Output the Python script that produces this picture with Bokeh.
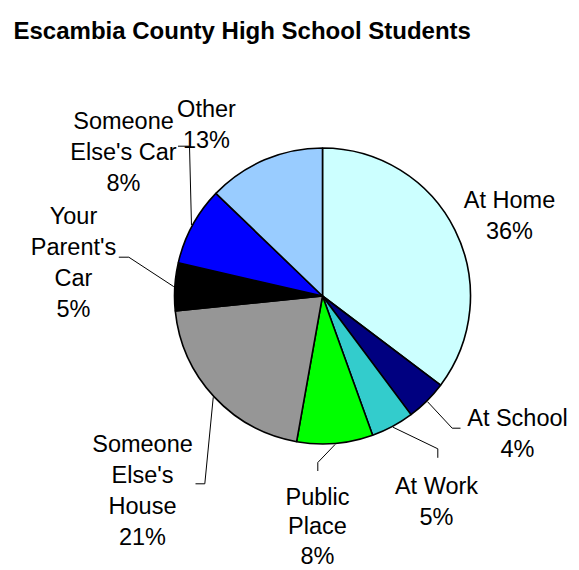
import numpy as np
from bokeh.plotting import figure
from bokeh.models import Range1d, ColumnDataSource
from bokeh.core.properties import value
from bokeh.embed import file_html
from bokeh.resources import INLINE

# ---------------- data ----------------
chart_title = "Escambia County High School Students"
categories = ["At Home", "At School", "At Work", "Public Place",
              "Someone Else's House", "Your Parent's Car",
              "Someone Else's Car", "Other"]
shares = [35.3, 4.5, 4.7, 8.3, 20.6, 5.2, 8.6, 12.8]
pct_labels = ["36%", "4%", "5%", "8%", "21%", "5%", "8%", "13%"]
label_lines = [["At Home"], ["At School"], ["At Work"], ["Public", "Place"],
               ["Someone", "Else's", "House"], ["Your", "Parent's", "Car"],
               ["Someone", "Else's Car"], ["Other"]]

# ---------------- styles / layout ----------------
colors = ["#CCFFFF", "#000080", "#33CCCC", "#00FF00",
          "#969696", "#000000", "#0000FF", "#99CCFF"]
FONT = "Liberation Sans"
W, H = 579, 570
CX, CY, R = 322, 295.5, 148      # page pixel coordinates
# label anchor: centre x, first baseline, line spacing (page px)
label_pos = [(509, 199.5, 31), (517, 417.5, 31), (436, 485, 31),
             (317, 496, 29.5), (142, 443, 31), (73, 215, 31),
             (123, 120.5, 31), (206, 108.5, 31)]
# leader lines: start point near label, elbow (None = no leader)
leaders = [None,
           ((460, 427.7), (451.7, 427.7)),
           ((437.3, 457.3), (437.3, 448.3)),
           ((317.3, 470.5), (317.3, 462.0)),
           ((195, 483.3), (204.3, 483.3)),
           ((118.3, 256.7), (128.3, 256.7)),
           ((177.5, 145.7), (189.0, 145.7)),
           None]

p = figure(width=W, height=H, x_range=Range1d(0, W),
           y_range=Range1d(-H, 0), output_backend="svg",
           toolbar_location=None, min_border=0,
           x_axis_location=None, y_axis_location=None)
p.grid.visible = False
p.outline_line_color = None
p.background_fill_color = "white"
p.border_fill_color = "white"

total = float(sum(shares))
frac = np.array(shares) / total
cum_after = np.cumsum(frac)
cum_before = cum_after - frac
start = np.pi / 2 - 2 * np.pi * cum_before
end = np.pi / 2 - 2 * np.pi * cum_after

src = ColumnDataSource(dict(cat=categories, start=start, end=end, color=colors))
p.wedge(x=CX, y=-CY, radius=R, start_angle="start", end_angle="end",
        direction="clock", fill_color="color", line_color="black",
        line_width=1.6, source=src)

# leader lines, ending on the pie edge at each slice's mid angle
mid = 2 * np.pi * (cum_before + frac / 2)   # clockwise from top
for i, ld in enumerate(leaders):
    if ld is None:
        continue
    (sx, sy), (ex, ey) = ld
    px = CX + (R + 1) * np.sin(mid[i])
    py = CY - (R + 1) * np.cos(mid[i])
    p.line([sx, ex, px], [-sy, -ey, -py], line_color="black", line_width=1)

# labels
tx, ty, tt = [], [], []
for i, lines in enumerate(label_lines):
    x0, y0, lh = label_pos[i]
    rows = lines + [pct_labels[i]]
    for k, t in enumerate(rows):
        tx.append(x0)
        ty.append(-(y0 + k * lh))
        tt.append(t)
p.text(x=tx, y=ty, text=tt, text_align="center", text_baseline="alphabetic",
       text_font=value(FONT), text_font_size="23.5px", text_color="black")

p.text(x=[13], y=[-29.5], text=[chart_title], text_align="left",
       text_baseline="alphabetic", text_font=value(FONT),
       text_font_size="24px", text_font_style="bold", text_color="black")

open("out.html", "w").write(file_html(p, INLINE))
